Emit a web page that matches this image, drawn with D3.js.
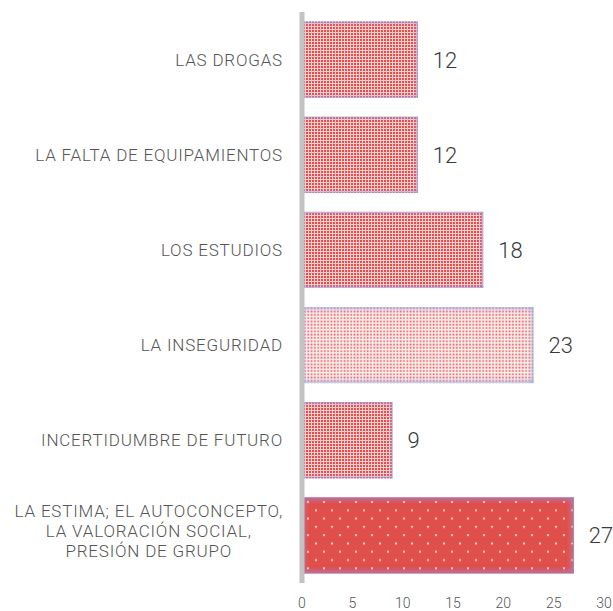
<!DOCTYPE html>
<html>
<head>
<meta charset="utf-8">
<script src="https://cdn.jsdelivr.net/npm/d3@7"></script>
<style>
  html, body { margin: 0; padding: 0; background: #fff; }
  svg { display: block; }
</style>
</head>
<body>
<div id="chart"></div>
<script>
const WIDTH = 613;
const HEIGHT = 611;

// Data
const categories = [
  'LAS DROGAS',
  'LA FALTA DE EQUIPAMIENTOS',
  'LOS ESTUDIOS',
  'LA INSEGURIDAD',
  'INCERTIDUMBRE DE FUTURO',
  'LA ESTIMA; EL AUTOCONCEPTO, LA VALORACIÓN SOCIAL, PRESIÓN DE GRUPO'
];
const categoryLines = [
  ['LAS DROGAS'],
  ['LA FALTA DE EQUIPAMIENTOS'],
  ['LOS ESTUDIOS'],
  ['LA INSEGURIDAD'],
  ['INCERTIDUMBRE DE FUTURO'],
  ['LA ESTIMA; EL AUTOCONCEPTO,', 'LA VALORACIÓN SOCIAL,', 'PRESIÓN DE GRUPO']
];
const values = [11.5, 11.5, 18, 23, 9, 27];
const valueLabels = ['12', '12', '18', '23', '9', '27'];
const xTicks = [0, 5, 10, 15, 20, 25, 30];

// which fill each bar uses
const barFills = ['dense', 'dense', 'dense', 'light', 'dense', 'dots'];

const svg = d3.select('#chart')
  .append('svg')
  .attr('width', WIDTH)
  .attr('height', HEIGHT);

const defs = svg.append('defs');

// Patterns
const dense = defs.append('pattern')
  .attr('id', 'pat-dense')
  .attr('patternUnits', 'userSpaceOnUse')
  .attr('width', 3).attr('height', 3);
dense.append('rect').attr('width', 3).attr('height', 3).attr('fill', '#f6d0cf');
dense.append('rect').attr('width', 2).attr('height', 2).attr('fill', '#e44e4c');

const light = defs.append('pattern')
  .attr('id', 'pat-light')
  .attr('patternUnits', 'userSpaceOnUse')
  .attr('width', 3.3).attr('height', 3.3);
light.append('rect').attr('width', 3.3).attr('height', 3.3).attr('fill', '#fcf0f0');
light.append('rect').attr('x', 0.5).attr('y', 0.5).attr('width', 1.7).attr('height', 1.7).attr('fill', '#e65e5e');

const dots = defs.append('pattern')
  .attr('id', 'pat-dots')
  .attr('patternUnits', 'userSpaceOnUse')
  .attr('width', 16).attr('height', 16.6);
dots.append('rect').attr('width', 16).attr('height', 16.6).attr('fill', '#e0504a');
dots.append('circle').attr('cx', 4).attr('cy', 4).attr('r', 1.1).attr('fill', '#fbe0de');
dots.append('circle').attr('cx', 12).attr('cy', 12.3).attr('r', 1.1).attr('fill', '#fbe0de');

// Inner glow on the bar edges
function innerGlow(id, color, blur, strength) {
  const f = defs.append('filter')
    .attr('id', id)
    .attr('x', '-20%').attr('y', '-20%')
    .attr('width', '140%').attr('height', '140%');
  f.append('feFlood').attr('flood-color', color).attr('result', 'flood');
  f.append('feComposite').attr('in', 'flood').attr('in2', 'SourceAlpha')
    .attr('operator', 'out').attr('result', 'outside');
  f.append('feGaussianBlur').attr('in', 'outside').attr('stdDeviation', blur).attr('result', 'blur');
  f.append('feComponentTransfer').attr('in', 'blur').attr('result', 'boost')
    .append('feFuncA').attr('type', 'linear').attr('slope', strength);
  f.append('feComposite').attr('in', 'boost').attr('in2', 'SourceAlpha')
    .attr('operator', 'in').attr('result', 'glow');
  const m = f.append('feMerge');
  m.append('feMergeNode').attr('in', 'SourceGraphic');
  m.append('feMergeNode').attr('in', 'glow');
}
innerGlow('glow-dense', '#8193d2', 2, 1.4);
innerGlow('glow-light', '#98b3e4', 3, 1.5);
innerGlow('glow-dots', '#8a86bb', 3.5, 1.3);

const x = d3.scaleLinear()
  .domain([0, 30])
  .range([302, 604]);

const y = d3.scaleBand()
  .domain(categories)
  .range([12, 583])
  .paddingInner(0.2)
  .paddingOuter(0.1);

// Bars
svg.append('g')
  .selectAll('rect')
  .data(values)
  .join('rect')
  .attr('x', x(0))
  .attr('y', (d, i) => y(categories[i]))
  .attr('width', d => x(d) - x(0))
  .attr('height', y.bandwidth())
  .attr('fill', (d, i) => `url(#pat-${barFills[i]})`)
  .attr('filter', (d, i) => `url(#glow-${barFills[i]})`);

// Vertical axis line
svg.append('line')
  .attr('x1', x(0)).attr('x2', x(0))
  .attr('y1', y.range()[0]).attr('y2', y.range()[1])
  .attr('stroke', '#c3c3c3')
  .attr('stroke-width', 5);

// Value labels
svg.append('g')
  .selectAll('text')
  .data(values)
  .join('text')
  .attr('x', d => x(d) + 15)
  .attr('y', (d, i) => y(categories[i]) + y.bandwidth() / 2)
  .attr('dy', '0.36em')
  .attr('font-family', 'Roboto, sans-serif')
  .attr('font-weight', 300)
  .attr('font-size', '22px')
  .attr('fill', '#3a3a3a')
  .text((d, i) => valueLabels[i]);

// Category labels
const LABEL_RIGHT = 283;
const LINE_H = 20;
const labels = svg.append('g')
  .attr('font-family', 'Roboto, sans-serif')
  .attr('font-weight', 300)
  .attr('font-size', '17px')
  .attr('letter-spacing', '0.8px')
  .attr('fill', '#555');

categoryLines.forEach((lines, i) => {
  // multi-line block sits a little above the bar centre
  const cy = y(categories[i]) + y.bandwidth() / 2 - (lines.length > 1 ? 5 : 0);
  const g = labels.append('g');
  const texts = lines.map((line, j) => g.append('text')
    .attr('y', cy + (j - (lines.length - 1) / 2) * LINE_H)
    .attr('dy', '0.36em')
    .text(line));
  if (lines.length === 1) {
    texts[0].attr('x', LABEL_RIGHT).attr('text-anchor', 'end');
  } else {
    const maxW = d3.max(texts, t => t.node().getComputedTextLength());
    texts.forEach(t => t.attr('x', LABEL_RIGHT - maxW / 2).attr('text-anchor', 'middle'));
  }
});

// X tick labels
svg.append('g')
  .selectAll('text')
  .data(xTicks)
  .join('text')
  .attr('x', d => x(d))
  .attr('y', 603)
  .attr('dy', '0.36em')
  .attr('text-anchor', 'middle')
  .attr('font-family', 'Roboto, sans-serif')
  .attr('font-weight', 300)
  .attr('font-size', '14px')
  .attr('fill', '#555')
  .text(d => d);
</script>
</body>
</html>
